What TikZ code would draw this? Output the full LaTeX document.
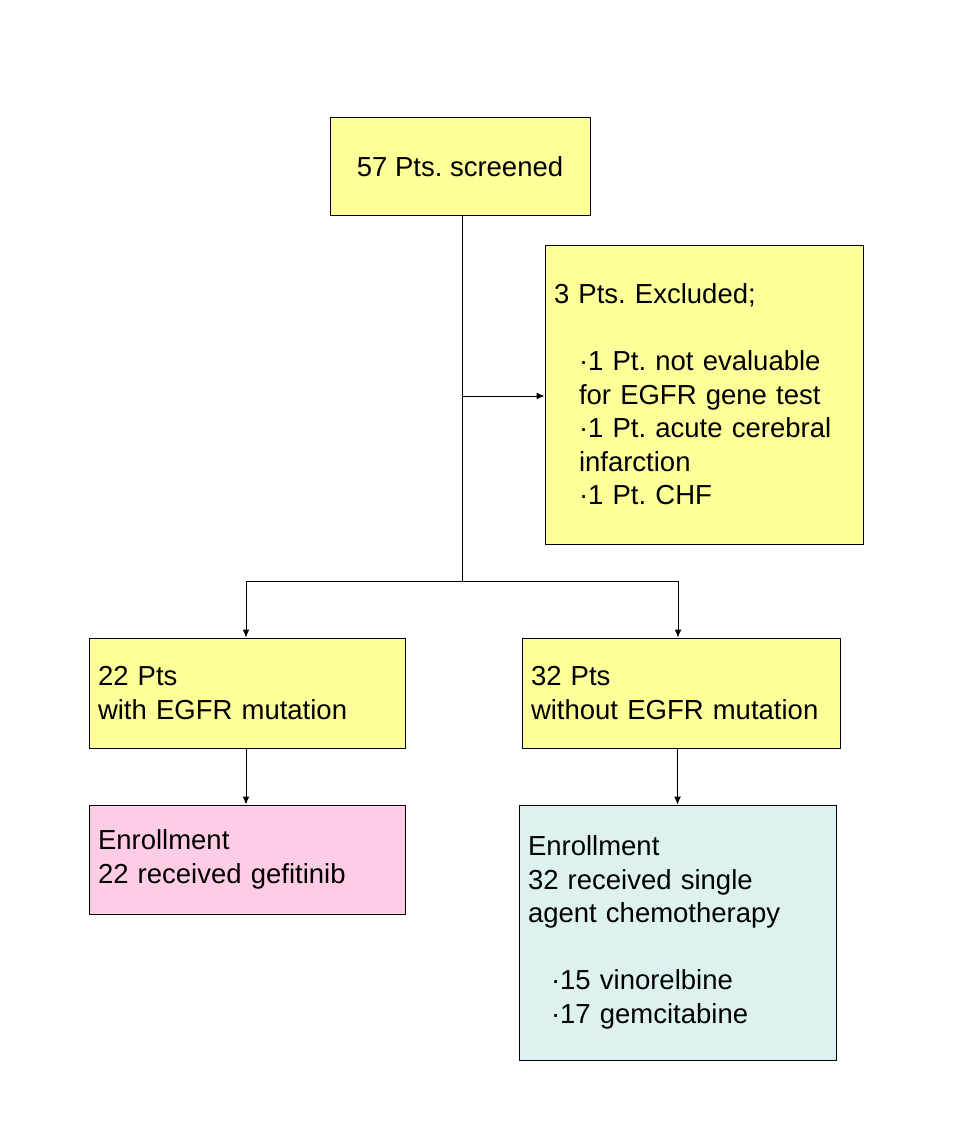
\documentclass[tikz,border=0pt]{standalone}
\usepackage{fontspec}
\setmainfont{Liberation Sans}
\usepackage{xcolor}
\usetikzlibrary{arrows.meta}
\frenchspacing
\definecolor{boxyellow}{RGB}{255,255,153}
\definecolor{boxpink}{RGB}{255,204,230}
\definecolor{boxcyan}{RGB}{222,241,241}
\tikzset{
  box/.style={draw,line width=1pt,rectangle,inner xsep=9pt,inner ysep=0pt,
    font=\fontsize{27.5}{33.5}\selectfont,align=left},
  link/.style={line width=1pt,-{Latex[length=8pt,width=7pt]}}
}
\begin{document}
\begin{tikzpicture}[x=1pt,y=-1pt]
			\useasboundingbox (0,0) rectangle (960,1134);
			% Boxes
			\node[box,fill=boxyellow,minimum width=260pt,minimum height=97pt,align=center] (screened) at (460,166.5) {57 Pts. screened};
			\node[box,fill=boxyellow,minimum width=318pt,minimum height=299pt,text width=300pt] (excluded) at (704,394.5)
			{3 Pts. Excluded;\\[33.5pt]
			\hspace*{25pt}·1 Pt. not evaluable\\
			\hspace*{25pt}for EGFR gene test\\
			\hspace*{25pt}·1 Pt. acute cerebral\\
			\hspace*{25pt}infarction\\
			\hspace*{25pt}·1 Pt. CHF};
			\node[box,fill=boxyellow,minimum width=316pt,minimum height=110pt,text width=298pt] (withmut) at (247,693) {22 Pts\\with EGFR mutation};
			\node[box,fill=boxyellow,minimum width=318pt,minimum height=110pt,text width=300pt] (withoutmut) at (681,693) {32 Pts\\without EGFR mutation};
			\node[box,fill=boxpink,minimum width=316pt,minimum height=109pt,text width=298pt] (gefitinib) at (247,859.5) {Enrollment\\22 received gefitinib};
			\node[box,fill=boxcyan,minimum width=317pt,minimum height=255pt,text width=299pt] (chemo) at (677.5,932.5)
			{Enrollment\\32 received single\\agent chemotherapy\\[33.5pt]
			\hspace*{23pt}·15 vinorelbine\\
			\hspace*{23pt}·17 gemcitabine};
			% Connectors
			\coordinate (split) at ([xshift=2pt]screened.south |- 0,581);
			\coordinate (branch) at ([xshift=2pt]screened.south |- 0,396);
			\draw[line width=1pt] ([xshift=2pt]screened.south) -- (split);
			\draw[link] (branch) -- (excluded.west |- branch);
			\draw[link] (split) -| ([xshift=-1pt]withmut.north);
			\draw[link] (split) -| ([xshift=-3pt]withoutmut.north);
			\draw[link] ([xshift=-1pt]withmut.south) -- ([xshift=-1pt]gefitinib.north);
			\draw[link] (chemo.north |- withoutmut.south) -- (chemo.north);
		\end{tikzpicture}
\end{document}
